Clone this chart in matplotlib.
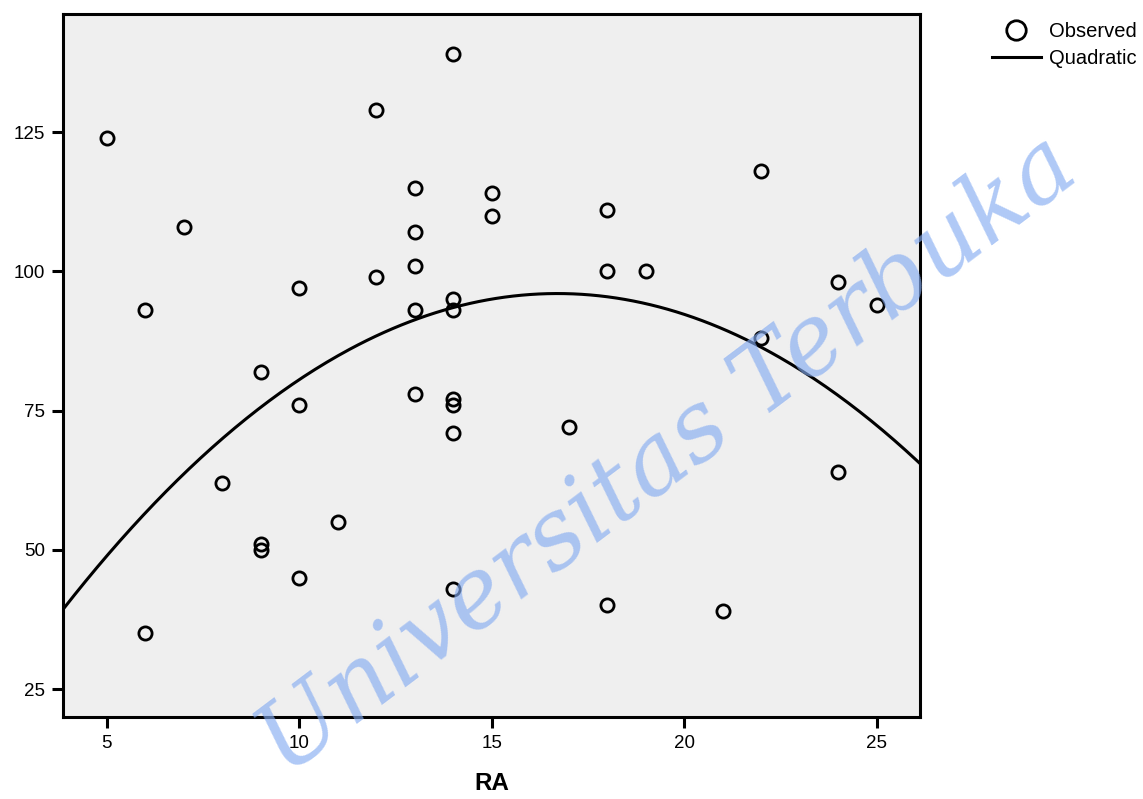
import numpy as np
import matplotlib
matplotlib.use("Agg")
import matplotlib.pyplot as plt
from matplotlib.lines import Line2D

plt.rcParams['font.family'] = ['Liberation Sans', 'DejaVu Sans']

ra = [5, 6, 6, 7, 8, 9, 9, 9, 10, 10, 10, 11, 12, 12, 13, 13, 13, 13, 13,
      14, 14, 14, 14, 14, 14, 14, 15, 15, 17, 18, 18, 18, 19, 21, 22, 22, 24, 24, 25]
obs = [124, 93, 35, 108, 62, 82, 51, 50, 97, 76, 45, 55, 129, 99, 115, 107, 101, 93, 78,
       139, 95, 93, 77, 76, 71, 43, 114, 110, 72, 111, 100, 40, 100, 39, 118, 88, 98, 64, 94]

# quadratic fit coefficients (c0 + c1*x + c2*x^2)
quad_coef = [0.06, 11.49, -0.344]

x_ticks = [5, 10, 15, 20, 25]
y_ticks = [25, 50, 75, 100, 125]
x_label = "RA"

fig = plt.figure(figsize=(11.43, 7.99), dpi=100)
ax = fig.add_axes([0.0551, 0.1026, 0.7498, 0.8799])
ax.set_facecolor('#EFEFEF')

xlim = (3.86, 26.12)
ylim = (19.97, 146.2)

xs = np.linspace(xlim[0], xlim[1], 300)
ax.plot(xs, np.polynomial.polynomial.polyval(xs, quad_coef), color='black', lw=2.2, zorder=2)
ax.plot(ra, obs, linestyle='none', marker='o', markersize=9.5, markerfacecolor='none',
        markeredgecolor='black', markeredgewidth=2.0, zorder=3)

ax.set_xlim(*xlim)
ax.set_ylim(*ylim)
ax.set_xticks(x_ticks)
ax.set_yticks(y_ticks)
ax.tick_params(direction='out', length=8, width=2.2, labelsize=13.5, pad=5)
for s in ax.spines.values():
    s.set_linewidth(2.2)
ax.set_xlabel(x_label, fontsize=17.5, fontweight='bold', labelpad=14)

handles = [Line2D([], [], linestyle='none', marker='o', markersize=14, markerfacecolor='none',
                  markeredgecolor='black', markeredgewidth=2.0),
           Line2D([], [], color='black', lw=2.2)]
fig.legend(handles, ['Observed', 'Quadratic'], loc='upper left', bbox_to_anchor=(0.861, 0.983),
           frameon=False, fontsize=14.5, handlelength=2.4, handletextpad=0.4, labelspacing=0.4,
           borderpad=0.4, borderaxespad=0.0)

fig.text(0.585, 0.43, 'Universitas Terbuka', rotation=37, fontsize=70, style='italic',
         family=['DejaVu Serif'], color='#85ACF2', alpha=0.65, ha='center', va='center', zorder=10)

fig.savefig('out.png', dpi=100)
